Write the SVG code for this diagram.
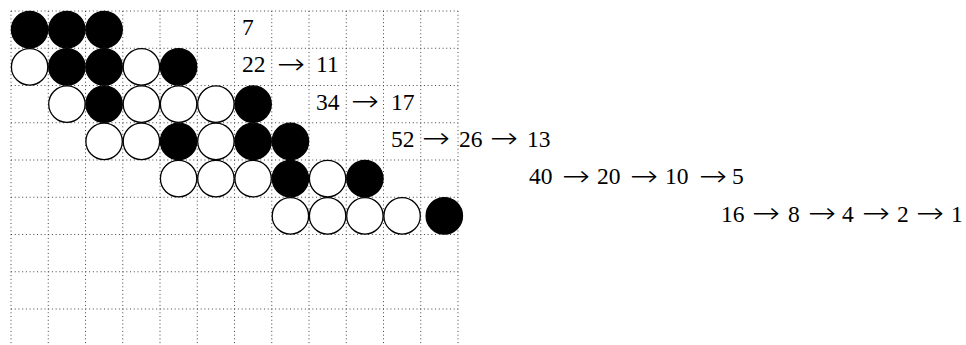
<svg xmlns="http://www.w3.org/2000/svg" width="966" height="345" viewBox="0 0 966 345">
<style>
.grid line{stroke:#444;stroke-width:1;stroke-dasharray:1 2.72}
.w{fill:#fff;stroke:#000;stroke-width:1.3}
.b{fill:#000;stroke:#000;stroke-width:1.3}
text{font-family:"Liberation Serif","Times New Roman","DejaVu Serif",serif;font-size:23.5px;fill:#000}
.a{font-family:"DejaVu Sans","Noto Sans",sans-serif;font-size:29px;font-weight:200}
</style>
<rect width="966" height="345" fill="#fff"/>
<g id="grid" class="grid">
<line x1="11" y1="11" x2="11" y2="345"/>
<line x1="48.25" y1="11" x2="48.25" y2="345"/>
<line x1="85.5" y1="11" x2="85.5" y2="345"/>
<line x1="122.75" y1="11" x2="122.75" y2="345"/>
<line x1="160" y1="11" x2="160" y2="345"/>
<line x1="197.25" y1="11" x2="197.25" y2="345"/>
<line x1="234.5" y1="11" x2="234.5" y2="345"/>
<line x1="271.75" y1="11" x2="271.75" y2="345"/>
<line x1="309" y1="11" x2="309" y2="345"/>
<line x1="346.25" y1="11" x2="346.25" y2="345"/>
<line x1="383.5" y1="11" x2="383.5" y2="345"/>
<line x1="420.75" y1="11" x2="420.75" y2="345"/>
<line x1="458" y1="11" x2="458" y2="345"/>
<line x1="11" y1="11" x2="458" y2="11"/>
<line x1="11" y1="48.25" x2="458" y2="48.25"/>
<line x1="11" y1="85.5" x2="458" y2="85.5"/>
<line x1="11" y1="122.75" x2="458" y2="122.75"/>
<line x1="11" y1="160" x2="458" y2="160"/>
<line x1="11" y1="197.25" x2="458" y2="197.25"/>
<line x1="11" y1="234.5" x2="458" y2="234.5"/>
<line x1="11" y1="271.75" x2="458" y2="271.75"/>
<line x1="11" y1="309" x2="458" y2="309"/>
</g>
<g id="connectors"></g>
<g id="row0">
<g id="r0c0"><circle class="b" cx="29.6" cy="29.6" r="18.2"/></g>
<g id="r0c1"><circle class="b" cx="66.9" cy="29.6" r="18.2"/></g>
<g id="r0c2"><circle class="b" cx="104.1" cy="29.6" r="18.2"/></g>
</g>
<g id="row1">
<g id="r1c0"><circle class="w" cx="29.6" cy="66.9" r="18.2"/></g>
<g id="r1c1"><circle class="b" cx="66.9" cy="66.9" r="18.2"/></g>
<g id="r1c2"><circle class="b" cx="104.1" cy="66.9" r="18.2"/></g>
<g id="r1c3"><circle class="w" cx="141.4" cy="66.9" r="18.2"/></g>
<g id="r1c4"><circle class="b" cx="178.6" cy="66.9" r="18.2"/></g>
</g>
<g id="row2">
<g id="r2c1"><circle class="w" cx="66.9" cy="104.1" r="18.2"/></g>
<g id="r2c2"><circle class="b" cx="104.1" cy="104.1" r="18.2"/></g>
<g id="r2c3"><circle class="w" cx="141.4" cy="104.1" r="18.2"/></g>
<g id="r2c4"><circle class="w" cx="178.6" cy="104.1" r="18.2"/></g>
<g id="r2c5"><circle class="w" cx="215.9" cy="104.1" r="18.2"/></g>
<g id="r2c6"><circle class="b" cx="253.1" cy="104.1" r="18.2"/></g>
</g>
<g id="row3">
<g id="r3c2"><circle class="w" cx="104.1" cy="141.4" r="18.2"/></g>
<g id="r3c3"><circle class="w" cx="141.4" cy="141.4" r="18.2"/></g>
<g id="r3c4"><circle class="b" cx="178.6" cy="141.4" r="18.2"/></g>
<g id="r3c5"><circle class="w" cx="215.9" cy="141.4" r="18.2"/></g>
<g id="r3c6"><circle class="b" cx="253.1" cy="141.4" r="18.2"/></g>
<g id="r3c7"><circle class="b" cx="290.4" cy="141.4" r="18.2"/></g>
</g>
<g id="row4">
<g id="r4c4"><circle class="w" cx="178.6" cy="178.6" r="18.2"/></g>
<g id="r4c5"><circle class="w" cx="215.9" cy="178.6" r="18.2"/></g>
<g id="r4c6"><circle class="w" cx="253.1" cy="178.6" r="18.2"/></g>
<g id="r4c7"><circle class="b" cx="290.4" cy="178.6" r="18.2"/></g>
<g id="r4c8"><circle class="w" cx="327.6" cy="178.6" r="18.2"/></g>
<g id="r4c9"><circle class="b" cx="364.9" cy="178.6" r="18.2"/></g>
</g>
<g id="row5">
<g id="r5c7"><circle class="w" cx="290.4" cy="215.9" r="18.2"/></g>
<g id="r5c8"><circle class="w" cx="327.6" cy="215.9" r="18.2"/></g>
<g id="r5c9"><circle class="w" cx="364.9" cy="215.9" r="18.2"/></g>
<g id="r5c10"><circle class="w" cx="402.1" cy="215.9" r="18.2"/></g>
<g id="r5c11"><circle class="b" cx="444.3" cy="215.9" r="18.2"/></g>
</g>
<g id="labels">
<text id="seq0" y="35"><tspan x="242">7</tspan></text>
<text id="seq1" y="72"><tspan x="242">22</tspan><tspan class="a" x="277" y="73.5" textLength="28" lengthAdjust="spacingAndGlyphs">→</tspan><tspan x="316" y="72">11</tspan></text>
<text id="seq2" y="109.5"><tspan x="316">34</tspan><tspan class="a" x="351" y="111" textLength="28" lengthAdjust="spacingAndGlyphs">→</tspan><tspan x="391" y="109.5">17</tspan></text>
<text id="seq3" y="146.5"><tspan x="391">52</tspan><tspan class="a" x="422" y="148" textLength="28" lengthAdjust="spacingAndGlyphs">→</tspan><tspan x="459" y="146.5">26</tspan><tspan class="a" x="490" y="148" textLength="28" lengthAdjust="spacingAndGlyphs">→</tspan><tspan x="527" y="146.5">13</tspan></text>
<text id="seq4" y="184"><tspan x="529">40</tspan><tspan class="a" x="562" y="185.5" textLength="28" lengthAdjust="spacingAndGlyphs">→</tspan><tspan x="597" y="184">20</tspan><tspan class="a" x="630" y="185.5" textLength="28" lengthAdjust="spacingAndGlyphs">→</tspan><tspan x="665" y="184">10</tspan><tspan class="a" x="699" y="185.5" textLength="28" lengthAdjust="spacingAndGlyphs">→</tspan><tspan x="732" y="184">5</tspan></text>
<text id="seq5" y="221.5"><tspan x="721">16</tspan><tspan class="a" x="752" y="223" textLength="28" lengthAdjust="spacingAndGlyphs">→</tspan><tspan x="788" y="221.5">8</tspan><tspan class="a" x="808" y="223" textLength="28" lengthAdjust="spacingAndGlyphs">→</tspan><tspan x="842" y="221.5">4</tspan><tspan class="a" x="862" y="223" textLength="28" lengthAdjust="spacingAndGlyphs">→</tspan><tspan x="897" y="221.5">2</tspan><tspan class="a" x="916" y="223" textLength="28" lengthAdjust="spacingAndGlyphs">→</tspan><tspan x="951" y="221.5">1</tspan></text>
</g>
</svg>
